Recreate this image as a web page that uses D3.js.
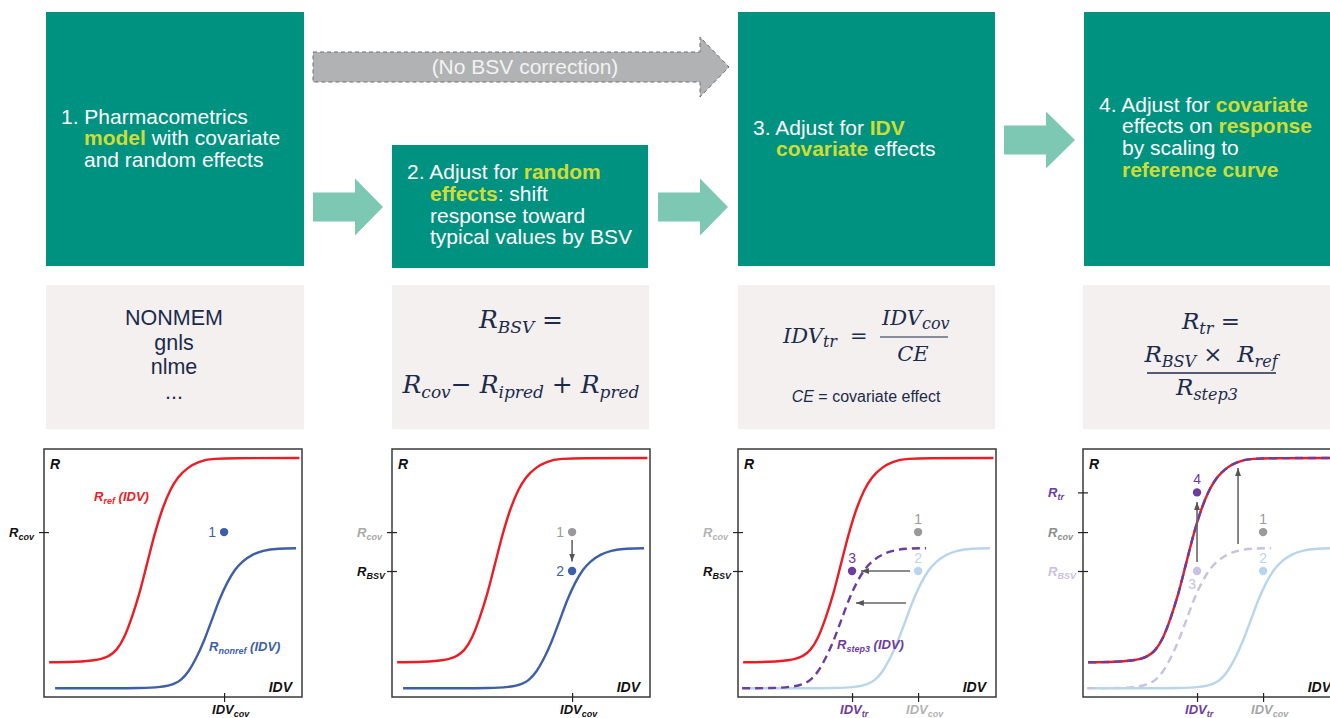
<!DOCTYPE html>
<html>
<head>
<meta charset="utf-8">
<script src="https://cdn.jsdelivr.net/npm/d3@7"></script>
<style>
  body { margin: 0; background: #fff; }
  svg { display: block; }
  text { white-space: pre; }
</style>
</head>
<body>
<script>
// ---------- data (IDV and R both on a 0-100 sketch scale) ----------
var refIDV    = [2, 12, 20, 25, 28, 31, 34, 37, 40, 43, 46, 49, 52, 56, 60, 66, 75, 99];
var refR      = [14, 14.2, 14.9, 16.5, 19, 24, 32, 42, 54, 66, 76, 83.5, 88.5, 92.5, 94.7, 96, 96.3, 96.4];
var nonrefIDV = [4.3, 27, 37, 45, 50, 53, 56, 59, 62, 65, 68, 71, 74, 77, 81, 85, 91, 97.7];
var nonrefR   = [3.5, 3.5, 3.6, 4.1, 5.2, 6.9, 10.4, 15.8, 22.7, 30.9, 39.2, 46, 51.2, 54.6, 57.4, 58.9, 59.8, 60];
var step3IDV  = [1.6, 12, 20, 25, 28, 31, 34, 37, 40, 43, 46, 49, 52, 56, 60, 66, 72.9];
var step3R    = [3.5, 3.6, 4.1, 5.2, 6.9, 10.4, 15.8, 22.7, 30.9, 39.2, 46, 51.2, 54.6, 57.4, 58.9, 59.8, 60];

var R_COV = 66.5, R_BSV = 50.8, R_TR = 82.5;
var IDV_COV = 69.8, IDV_TR = 44.2;

var step1Lines = [[["1. Pharmacometrics"]], [["model", 1], [" with covariate"]], [["and random effects"]]];
var step2Lines = [[["2. Adjust for "], ["random", 1]], [["effects", 1], [": shift"]], [["response toward"]], [["typical values by BSV"]]];
var step3Lines = [[["3. Adjust for "], ["IDV", 1]], [["covariate", 1], [" effects"]]];
var step4Lines = [[["4. Adjust for "], ["covariate", 1]], [["effects on "], ["response", 1]], [["by scaling to"]], [["reference curve", 1]]];
var toolNames  = ["NONMEM", "gnls", "nlme", "..."];

// ---------- colours ----------
var teal = "#009280", lightTeal = "#7cc8b2", hiYellow = "#cfdc34", formulaInk = "#1c2b4a";
var red = "#ec1c24", blue = "#3d5fa8", lightBlue = "#b9d5ec", purple = "#6c3c9e", lightPurple = "#c9c1e2", grey = "#9a9a9a";

var svg = d3.select("body").append("svg").attr("width", 1330).attr("height", 718);

svg.append("defs").append("marker")
    .attr("id", "ah").attr("viewBox", "0 0 8 6").attr("refX", 8).attr("refY", 3)
    .attr("markerWidth", 8).attr("markerHeight", 6).attr("markerUnits", "userSpaceOnUse")
    .attr("orient", "auto")
  .append("path").attr("d", "M0,0L8,3L0,6z").attr("fill", "#555");

function richText(parent, x, y, parts, o) {
    var t = parent.append("text").attr("x", x).attr("y", y)
        .attr("font-family", o.family).attr("font-size", o.size)
        .attr("font-style", o.style || "normal").attr("font-weight", o.weight || "normal")
        .attr("fill", o.color).attr("text-anchor", o.anchor || "start");
    var shifted = 0;
    parts.forEach(function (p) {
        var s = t.append("tspan").text(p[0]);
        var want = p[1] ? o.subShift : 0;
        s.attr("dy", want - shifted);
        shifted = want;
        if (p[1]) s.attr("font-size", o.subSize);
    });
    return t;
}

// ---------- step boxes ----------
function stepBox(x, y, w, h, lines, firstBase) {
    svg.append("rect").attr("x", x).attr("y", y).attr("width", w).attr("height", h).attr("fill", teal);
    lines.forEach(function (line, i) {
        var t = svg.append("text").attr("x", x + (i == 0 ? 15 : 38)).attr("y", firstBase + i * 21.8)
            .attr("font-family", "Liberation Sans, Arial, sans-serif").attr("font-size", 21).attr("fill", "#fff");
        line.forEach(function (seg) {
            var s = t.append("tspan").text(seg[0]);
            if (seg[1]) s.attr("font-weight", "bold").attr("fill", hiYellow);
        });
    });
}
stepBox(46, 12, 258, 254, step1Lines, 123.5);
stepBox(392, 145, 256, 123, step2Lines, 179);
stepBox(738, 12, 257, 254, step3Lines, 134.5);
stepBox(1084, 12, 260, 254, step4Lines, 111.5);

function blockArrow(x0, xh, xt, cy, bh, hh) {
    return [[x0, cy - bh], [xh, cy - bh], [xh, cy - hh], [xt, cy], [xh, cy + hh], [xh, cy + bh], [x0, cy + bh]];
}
svg.append("polygon").attr("points", blockArrow(313, 700, 729, 67, 15, 30).join(" "))
    .attr("fill", "#b1b2b4").attr("stroke", "#6f6f6f").attr("stroke-width", 1).attr("stroke-dasharray", "4,3");
svg.append("text").attr("x", 525).attr("y", 74).attr("text-anchor", "middle")
    .attr("font-family", "Liberation Sans, Arial, sans-serif").attr("font-size", 21).attr("fill", "#f2f2f2")
    .text("(No BSV correction)");
[[313, 355, 383, 207], [658, 700, 728, 207], [1004, 1046, 1075, 140]].forEach(function (a) {
    svg.append("polygon").attr("points", blockArrow(a[0], a[1], a[2], a[3], 14.5, 28.5).join(" ")).attr("fill", lightTeal);
});

// ---------- formula boxes ----------
[[46, 258], [392, 257], [738, 257], [1083, 260]].forEach(function (b) {
    svg.append("rect").attr("x", b[0]).attr("y", 285).attr("width", b[1]).attr("height", 144).attr("fill", "#f4f0ef");
});
toolNames.forEach(function (n, i) {
    svg.append("text").attr("x", 174).attr("y", 325 + i * 24.5).attr("text-anchor", "middle")
        .attr("font-family", "Liberation Sans, Arial, sans-serif").attr("font-size", 21.5).attr("fill", formulaInk).text(n);
});

var mathBig = { family: "DejaVu Serif, serif", style: "italic", size: 25, subSize: 17, subShift: 5, color: formulaInk, anchor: "middle" };
richText(svg, 521, 328, [["R"], ["BSV", 1], [" ="]], mathBig);
richText(svg, 521, 393, [["R"], ["cov", 1], ["\u2212 R"], ["ipred", 1], [" + R"], ["pred", 1]], mathBig);

var mathMid = { family: "DejaVu Serif, serif", style: "italic", size: 21, subSize: 16, subShift: 4, color: formulaInk };
richText(svg, 783, 343, [["IDV"], ["tr", 1]], mathMid);
richText(svg, 850, 343, [["="]], mathMid);
richText(svg, 882, 325, [["IDV"], ["cov", 1]], mathMid);
svg.append("line").attr("x1", 880).attr("x2", 948).attr("y1", 337).attr("y2", 337).attr("stroke", formulaInk).attr("stroke-width", 1.2);
richText(svg, 913, 361, [["CE"]], Object.assign({}, mathMid, { anchor: "middle" }));
var ceNote = svg.append("text").attr("x", 866).attr("y", 402).attr("text-anchor", "middle")
    .attr("font-family", "Liberation Sans, Arial, sans-serif").attr("font-size", 16).attr("fill", formulaInk);
ceNote.append("tspan").attr("font-style", "italic").text("CE");
ceNote.append("tspan").text(" = covariate effect");

var math4 = { family: "DejaVu Serif, serif", style: "italic", size: 23, subSize: 16, subShift: 5, color: formulaInk, anchor: "middle" };
richText(svg, 1211, 329, [["R"], ["tr", 1], [" ="]], math4);
richText(svg, 1211, 362, [["R"], ["BSV", 1], [" \u00d7  R"], ["ref", 1]], math4);
svg.append("line").attr("x1", 1147).attr("x2", 1276).attr("y1", 373).attr("y2", 373).attr("stroke", formulaInk).attr("stroke-width", 1.5);
richText(svg, 1207, 395, [["R"], ["step3", 1]], math4);

// ---------- sketch panels ----------
var frameTop = 449, frameW = 258, frameH = 248;
var x = d3.scaleLinear().domain([0, 100]).range([0, frameW]);
var y = d3.scaleLinear().domain([0, 100]).range([frameH, 0]);
var line = d3.line().x(function (d) { return x(d[0]); }).y(function (d) { return y(d[1]); }).curve(d3.curveMonotoneX);

var refCurve = d3.zip(refIDV, refR), nonrefCurve = d3.zip(nonrefIDV, nonrefR), step3Curve = d3.zip(step3IDV, step3R);

var lab = { family: "Liberation Sans, Arial, sans-serif", style: "italic", weight: "bold", size: 13, subSize: 9, subShift: 3 };

var panels = [
    { left: 44,
      curves: [[refCurve, red, null], [nonrefCurve, blue, null]],
      points: [[IDV_COV, R_COV, blue, "1", "left"]],
      arrows: [],
      yTicks: [[R_COV, "cov", "#111"]],
      xTicks: [[IDV_COV, "cov", "#111"]],
      notes: [[19.4, 79, [["R"], ["ref", 1], [" (IDV)"]], red], [64, 18.5, [["R"], ["nonref", 1], [" (IDV)"]], blue]] },
    { left: 392,
      curves: [[refCurve, red, null], [nonrefCurve, blue, null]],
      points: [[IDV_COV, R_COV, grey, "1", "left"], [IDV_COV, R_BSV, blue, "2", "left"]],
      arrows: [[IDV_COV, 63.3, IDV_COV, 54.6]],
      yTicks: [[R_COV, "cov", "#a9a9a9"], [R_BSV, "BSV", "#111"]],
      xTicks: [[IDV_COV, "cov", "#111"]],
      notes: [] },
    { left: 738,
      curves: [[refCurve, red, null], [nonrefCurve, lightBlue, null], [step3Curve, purple, "8,5"]],
      points: [[IDV_COV, R_COV, grey, "1", "above"], [IDV_COV, R_BSV, lightBlue, "2", "above"], [IDV_TR, R_BSV, purple, "3", "above"]],
      arrows: [[66.7, R_BSV, 47.7, R_BSV], [65.1, 37.9, 45.7, 37.9]],
      yTicks: [[R_COV, "cov", "#b3b3b3"], [R_BSV, "BSV", "#111"]],
      xTicks: [[IDV_TR, "tr", purple], [IDV_COV, "cov", "#b3b3b3"]],
      notes: [[38.4, 19.4, [["R"], ["step3", 1], [" (IDV)"]], purple]] },
    { left: 1083,
      curves: [[refCurve, red, null], [step3Curve, lightPurple, "8,5"], [nonrefCurve, lightBlue, null], [refCurve, purple, "8,5"]],
      points: [[IDV_TR, R_TR, purple, "4", "above"], [IDV_COV, R_COV, grey, "1", "above"], [IDV_COV, R_BSV, lightBlue, "2", "above"], [IDV_TR, R_BSV, lightPurple, "3", "below"]],
      arrows: [[IDV_TR, 54.4, IDV_TR, 78.6], [60.1, 61.7, 60.1, 92.3]],
      yTicks: [[R_TR, "tr", purple], [R_COV, "cov", "#8e8e8e"], [R_BSV, "BSV", lightPurple]],
      xTicks: [[IDV_TR, "tr", purple], [IDV_COV, "cov", "#a6a6a6"]],
      notes: [] }
];

panels.forEach(function (p) {
    var g = svg.append("g").attr("transform", "translate(" + p.left + "," + frameTop + ")");
    g.append("rect").attr("width", frameW).attr("height", frameH).attr("fill", "#fff")
        .attr("stroke", "#3a3a3a").attr("stroke-width", 1.5);

    g.append("g").attr("transform", "translate(5,0)")
        .call(d3.axisLeft(y).tickValues(p.yTicks.map(function (t) { return t[0]; })).tickSize(10).tickFormat(""))
        .call(function (a) { a.select(".domain").remove(); a.selectAll("line").attr("stroke", "#222").attr("stroke-width", 1.2); });
    g.append("g").attr("transform", "translate(0," + (frameH - 4) + ")")
        .call(d3.axisBottom(x).tickValues(p.xTicks.map(function (t) { return t[0]; })).tickSize(9).tickFormat(""))
        .call(function (a) { a.select(".domain").remove(); a.selectAll("line").attr("stroke", "#222").attr("stroke-width", 1.2); });

    p.yTicks.forEach(function (t) {
        richText(g, -35, y(t[0]) + 5, [["R"], [t[1], 1]], Object.assign({}, lab, { color: t[2] }));
    });
    p.xTicks.forEach(function (t) {
        richText(g, x(t[0]) - 12, 265, [["IDV"], [t[1], 1]], Object.assign({}, lab, { color: t[2] }));
    });

    p.curves.forEach(function (c) {
        g.append("path").datum(c[0]).attr("d", line).attr("fill", "none")
            .attr("stroke", c[1]).attr("stroke-width", 2.4).attr("stroke-dasharray", c[2]);
    });

    p.arrows.forEach(function (a) {
        g.append("line").attr("x1", x(a[0])).attr("y1", y(a[1])).attr("x2", x(a[2])).attr("y2", y(a[3]))
            .attr("stroke", "#666").attr("stroke-width", 1.6).attr("marker-end", "url(#ah)");
    });

    p.points.forEach(function (pt) {
        var cx = x(pt[0]), cy = y(pt[1]);
        g.append("circle").attr("cx", cx).attr("cy", cy).attr("r", 4.2).attr("fill", pt[2]);
        var t = g.append("text").attr("font-family", "Liberation Sans, Arial, sans-serif").attr("font-size", 14)
            .attr("fill", pt[2]).text(pt[3]);
        if (pt[4] == "left") t.attr("x", cx - 8).attr("y", cy + 5).attr("text-anchor", "end");
        else if (pt[4] == "above") t.attr("x", cx).attr("y", cy - 8).attr("text-anchor", "middle");
        else t.attr("x", cx - 5).attr("y", cy + 18).attr("text-anchor", "middle");
    });

    p.notes.forEach(function (n) {
        richText(g, x(n[0]), y(n[1]), n[2], Object.assign({}, lab, { color: n[3] }));
    });

    richText(g, 6, 20, [["R"]], Object.assign({}, lab, { size: 14, color: "#111" }));
    richText(g, 248, 243, [["IDV"]], Object.assign({}, lab, { size: 14, color: "#111", anchor: "end" }));
});
</script>
</body>
</html>
